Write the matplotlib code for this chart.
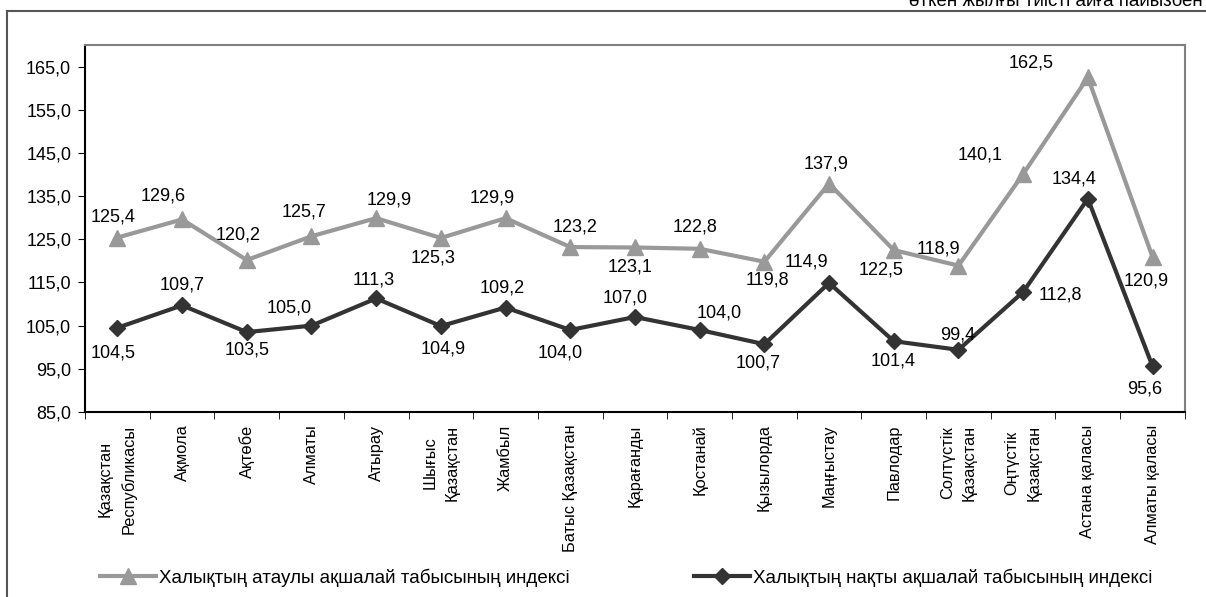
import numpy as np
import matplotlib.pyplot as plt
from matplotlib.lines import Line2D

plt.rcParams['font.family'] = ['Liberation Sans', 'DejaVu Sans']

# categories (regions)
regions = ['Қазақстан\nРеспубликасы', 'Ақмола', 'Ақтөбе', 'Алматы', 'Атырау',
           'Шығыс\nҚазақстан', 'Жамбыл', 'Батыс Қазақстан', 'Қарағанды',
           'Қостанай', 'Қызылорда', 'Маңғыстау', 'Павлодар',
           'Солтүстік\nҚазақстан', 'Оңтүстік\nҚазақстан', 'Астана қаласы',
           'Алматы қаласы']

nominal = [125.4, 129.6, 120.2, 125.7, 129.9, 125.3, 129.9, 123.2, 123.1,
           122.8, 119.8, 137.9, 122.5, 118.9, 140.1, 162.5, 120.9]
real = [104.5, 109.7, 103.5, 105.0, 111.3, 104.9, 109.2, 104.0, 107.0,
        104.0, 100.7, 114.9, 101.4, 99.4, 112.8, 134.4, 95.6]

name_nom = 'Халықтың атаулы ақшалай табысының индексі'
name_real = 'Халықтың нақты ақшалай табысының индексі'
yticks = np.arange(85, 166, 10)

# label offsets from the marker, in pixels (x right, y up)
nom_off = [(-4, 21), (-19, 23), (-9, 25), (-7, 24), (13, 18), (-8, -20),
           (-13, 20), (5, 20), (-5, -20), (-5, 22), (3, -18), (-3, 20),
           (-13, -20), (-20, 17), (-43, 19), (-57, 14), (-6, -24)]
real_off = [(-4, -25), (0, 20), (0, -18), (-22, 18), (-2, 18), (2, -23),
            (-3, 20), (-10, -23), (-10, 19), (20, 17), (-6, -19), (-23, 21),
            (-1, -20), (-1, 15), (37, -3), (-14, 20), (-8, -23)]

fig = plt.figure(figsize=(12.06, 5.97), dpi=100)
ax = fig.add_axes([0.0705, 0.3099, 0.912, 0.6147])

x = np.arange(len(regions))
gray = '#999999'
dark = '#333333'
ax.plot(x, nominal, color=gray, lw=3, marker='^', ms=11, label=name_nom)
ax.plot(x, real, color=dark, lw=3, marker='D', ms=8, label=name_real)

for vals, offs in ((nominal, nom_off), (real, real_off)):
    for i, v in enumerate(vals):
        dx, dy = offs[i]
        ax.annotate(f'{v:.1f}'.replace('.', ','), (i, v),
                    xytext=(dx * 0.72, dy * 0.72), textcoords='offset points',
                    ha='center', va='center', fontsize=13)

ax.set_xlim(-0.5, len(regions) - 0.5)
ax.set_ylim(85, 170)
ax.set_yticks(yticks)
ax.set_yticklabels([f'{t:.1f}'.replace('.', ',') for t in yticks], fontsize=13)
ax.set_xticks(x)
ax.set_xticklabels(regions, rotation=90, fontsize=11.8, va='top', ha='center',
                   linespacing=1.6)
ax.tick_params(axis='x', length=0, pad=9)
ax.set_xticks(np.arange(-0.5, len(regions)), minor=True)
ax.tick_params(axis='x', which='minor', length=5, direction='out')
ax.tick_params(axis='y', length=5, direction='out', pad=5)
ax.spines['top'].set_color('#808080')
ax.spines['right'].set_color('#808080')
for s in ax.spines.values():
    s.set_linewidth(1.5)

fig.legend(loc='center left', bbox_to_anchor=(0.083, 0.032), ncol=2,
           frameon=False, fontsize=13.5, handlelength=3.0, handletextpad=0.15,
           columnspacing=6.6, borderpad=0, borderaxespad=0)

# outer frame and cut-off caption
fig.add_artist(Line2D([0.006, 1.0], [0.9815, 0.9815], color='#555555', lw=1.5))
fig.add_artist(Line2D([0.006, 0.006], [0.0, 0.9815], color='#555555', lw=1.5))
fig.text(0.997, 0.997, 'өткен жылғы тиісті айға пайызбен', ha='right',
         va='center', fontsize=13.5)

fig.savefig('out.png', dpi=100)
